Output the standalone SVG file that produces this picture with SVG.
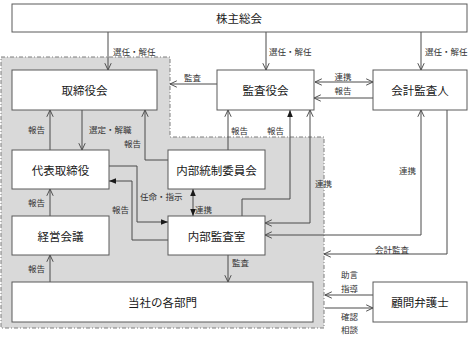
<svg xmlns="http://www.w3.org/2000/svg" width="470" height="340" viewBox="0 0 470 340">
<style>
.box{fill:#fff;stroke:#5a5a5a;stroke-width:1}
.bt{font-family:"Noto Sans CJK JP","Noto Sans CJK SC",sans-serif;font-size:11.5px;fill:#1a1a1a;text-anchor:middle;dominant-baseline:central}
.lb{font-family:"Noto Sans CJK JP","Noto Sans CJK SC",sans-serif;font-size:8.5px;fill:#333}
.c{fill:none;stroke:#4a4a4a;stroke-width:1}
.o{marker-end:url(#open)}
.os{marker-start:url(#open)}
.f{marker-end:url(#fill)}
.fs{marker-start:url(#fill)}
</style>
<defs>
<marker id="open" viewBox="0 0 10 10" refX="9.5" refY="5" markerWidth="8" markerHeight="8" markerUnits="userSpaceOnUse" orient="auto-start-reverse">
<path d="M1,1 L9.5,5 L1,9" fill="none" stroke="#4a4a4a" stroke-width="1.2"/>
</marker>
<marker id="fill" viewBox="0 0 10 10" refX="10" refY="5" markerWidth="7" markerHeight="7" markerUnits="userSpaceOnUse" orient="auto-start-reverse">
<path d="M0,1 L10,5 L0,9 Z" fill="#1a1a1a"/>
</marker>
</defs>
<rect width="470" height="340" fill="#fff"/>
<g id="region">
<path d="M1,57 H170 V137 H324 V328 H1 Z" fill="#d9d9d9" stroke="#7f7f7f" stroke-width="1" stroke-dasharray="4 2 1 2"/>
</g>
<g id="connectors">
<path class="c o" d="M108,32 V70"/>
<path class="c o" d="M266,32 V70"/>
<path class="c o" d="M421,32 V70"/>
<path class="c o" d="M217,84 H170"/>
<path class="c o os" d="M315,82 H373"/>
<path class="c o" d="M373,98 H314"/>
<path class="c o" d="M50,150 V110"/>
<path class="c o" d="M82,110 V150"/>
<path class="c o" d="M168,160 H145 V110"/>
<path class="c o" d="M228,150 V110"/>
<path class="c f" d="M242,216 V199 H290 V110"/>
<path class="c o os" d="M310,110 V223 H265"/>
<path class="c o os" d="M421,110 V235 H265"/>
<path class="c o" d="M447,110 V254 H324"/>
<path class="c o" d="M373,295 H325"/>
<path class="c o" d="M325,308 H373"/>
<path class="c f" d="M109,166 H137 V222 H168"/>
<path class="c f" d="M168,240 H132 V181 H109"/>
<path class="c f fs" d="M193,189 V216"/>
<path class="c o" d="M50,216 V189"/>
<path class="c o" d="M50,282 V255"/>
<path class="c o" d="M228,255 V282"/>
<text class="lb" x="113" y="55">選任・解任</text>
<text class="lb" x="269" y="55">選任・解任</text>
<text class="lb" x="425" y="55">選任・解任</text>
<text class="lb" x="184" y="81">監査</text>
<text class="lb" x="343" y="80" text-anchor="middle">連携</text>
<text class="lb" x="343" y="94" text-anchor="middle">報告</text>
<text class="lb" x="28" y="133">報告</text>
<text class="lb" x="89" y="133">選定・解職</text>
<text class="lb" x="124" y="147">報告</text>
<text class="lb" x="231" y="134">報告</text>
<text class="lb" x="267" y="134">報告</text>
<text class="lb" x="315" y="187">連携</text>
<text class="lb" x="399" y="174">連携</text>
<text class="lb" x="375" y="253">会計監査</text>
<text class="lb" x="341" y="278">助言</text>
<text class="lb" x="341" y="292">指導</text>
<text class="lb" x="341" y="320">確認</text>
<text class="lb" x="341" y="333">相談</text>
<text class="lb" x="140" y="200">任命・指示</text>
<text class="lb" x="112" y="213">報告</text>
<text class="lb" x="195" y="213">連携</text>
<text class="lb" x="28" y="206">報告</text>
<text class="lb" x="28" y="272">報告</text>
<text class="lb" x="232" y="266">監査</text>
</g>
<g id="shareholders"><rect class="box" x="12" y="4" width="455" height="28"/><text class="bt" x="239" y="18">株主総会</text></g>
<g id="board"><rect class="box" x="12" y="70" width="145" height="40"/><text class="bt" x="84.5" y="90">取締役会</text></g>
<g id="auditors"><rect class="box" x="217" y="70" width="97" height="40"/><text class="bt" x="265.5" y="90">監査役会</text></g>
<g id="accounting-auditor"><rect class="box" x="373" y="70" width="94" height="40"/><text class="bt" x="420" y="90">会計監査人</text></g>
<g id="representative"><rect class="box" x="12" y="150" width="97" height="39"/><text class="bt" x="60.5" y="169.5">代表取締役</text></g>
<g id="internal-control"><rect class="box" x="168" y="150" width="97" height="39"/><text class="bt" x="216.5" y="169.5">内部統制委員会</text></g>
<g id="management"><rect class="box" x="12" y="216" width="97" height="39"/><text class="bt" x="60.5" y="235.5">経営会議</text></g>
<g id="internal-audit"><rect class="box" x="168" y="216" width="97" height="39"/><text class="bt" x="216.5" y="235.5">内部監査室</text></g>
<g id="departments"><rect class="box" x="12" y="282" width="301" height="40"/><text class="bt" x="162.5" y="302">当社の各部門</text></g>
<g id="lawyer"><rect class="box" x="373" y="282" width="94" height="40"/><text class="bt" x="420" y="302">顧問弁護士</text></g>
</svg>
